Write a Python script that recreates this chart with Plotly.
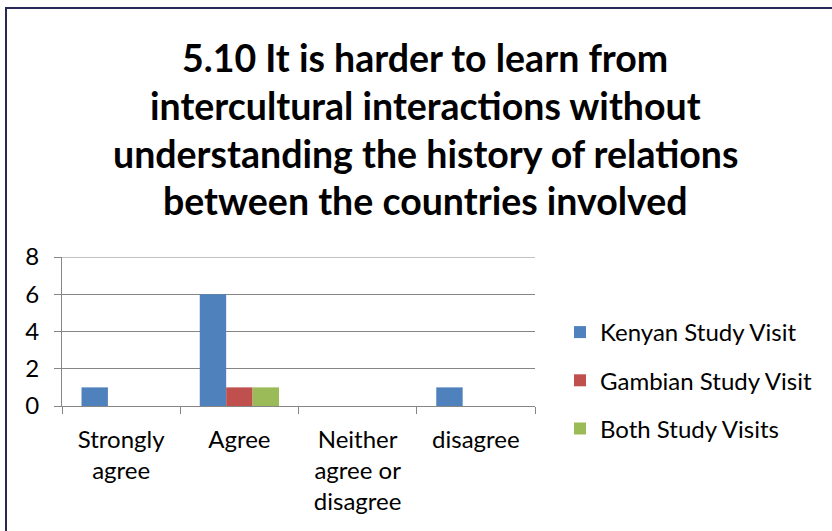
import plotly.graph_objects as go

categories = ["Strongly<br>agree", "Agree", "Neither<br>agree or<br>disagree", "disagree"]
kenyan = [1, 6, 0, 1]
gambian = [0, 1, 0, 0]
both = [0, 1, 0, 0]
series_names = ["Kenyan Study Visit", "Gambian Study Visit", "Both Study Visits"]
series_colors = ["#4F81BD", "#C0504D", "#9BBB59"]
title_lines = [
    "5.10 It is harder to learn from",
    "intercultural interactions without",
    "understanding the history of relations",
    "between the countries involved",
]
y_ticks = [0, 2, 4, 6, 8]
y_max = 8

W, H = 832, 531
L, R, T, B = 62, 535, 257, 406
pw, ph = R - L, B - T


def px_x(px):
    return (px - L) / pw


def px_y(py):
    return (B - py) / ph


FONT = "Lato"
fig = go.Figure()
for i, (name, vals) in enumerate(zip(series_names, [kenyan, gambian, both])):
    fig.add_trace(go.Bar(
        x=categories, y=vals, name=name,
        marker=dict(color=series_colors[i], line=dict(width=0)),
        legendgroup=f"g{i}",
    ))

annotations = []
for j, (line, cy) in enumerate(zip(title_lines, [58, 105, 153, 200])):
    annotations.append(dict(
        text=f"<b>{line}</b>", x=px_x(425), y=px_y(cy), xref="paper", yref="paper",
        xanchor="center", yanchor="middle", showarrow=False,
        font=dict(family=FONT, size=37.5, color="#000000"),
    ))

fig.update_layout(
    width=W, height=H,
    margin=dict(l=L, r=W - R, t=T, b=H - B, pad=0),
    paper_bgcolor="white", plot_bgcolor="white",
    barmode="group", bargap=0.33, bargroupgap=0,
    font=dict(family=FONT, size=24, color="#000000"),
    showlegend=True,
    legend=dict(
        x=px_x(560), y=px_y(310), xanchor="left", yanchor="top",
        font=dict(family=FONT, size=24, color="#000000"),
        tracegroupgap=14, bgcolor="rgba(0,0,0,0)",
    ),
    xaxis=dict(
        showline=True, linecolor="#868686", linewidth=1,
        ticks="outside", ticklen=7, tickcolor="#868686", tickson="boundaries",
        showgrid=False, tickfont=dict(family=FONT, size=24, color="#000000"),
        ticklabelstandoff=12,
    ),
    yaxis=dict(
        range=[0, y_max], tickvals=y_ticks, showgrid=True, gridcolor="#868686", gridwidth=1,
        showline=True, linecolor="#868686", linewidth=1,
        ticks="outside", ticklen=7, tickcolor="#868686", zeroline=False,
        tickfont=dict(family=FONT, size=24, color="#000000"),
        ticklabelstandoff=10,
    ),
    annotations=annotations,
    shapes=[
        dict(
            type="line", xref="paper", yref="y",
            x0=px_x(55), x1=1, y0=y_max, y1=y_max,
            line=dict(color="#868686", width=1), layer="below",
        ),
        dict(
            type="rect", xref="paper", yref="paper",
            x0=px_x(6), x1=px_x(850), y0=px_y(545), y1=px_y(8),
            line=dict(color="#262858", width=2), fillcolor="rgba(0,0,0,0)", layer="above",
        ),
    ],
)

fig.write_html(
    "out.html",
    config={"displayModeBar": False},
    post_script="document.body.style.margin='0';document.body.style.padding='0';",
)
